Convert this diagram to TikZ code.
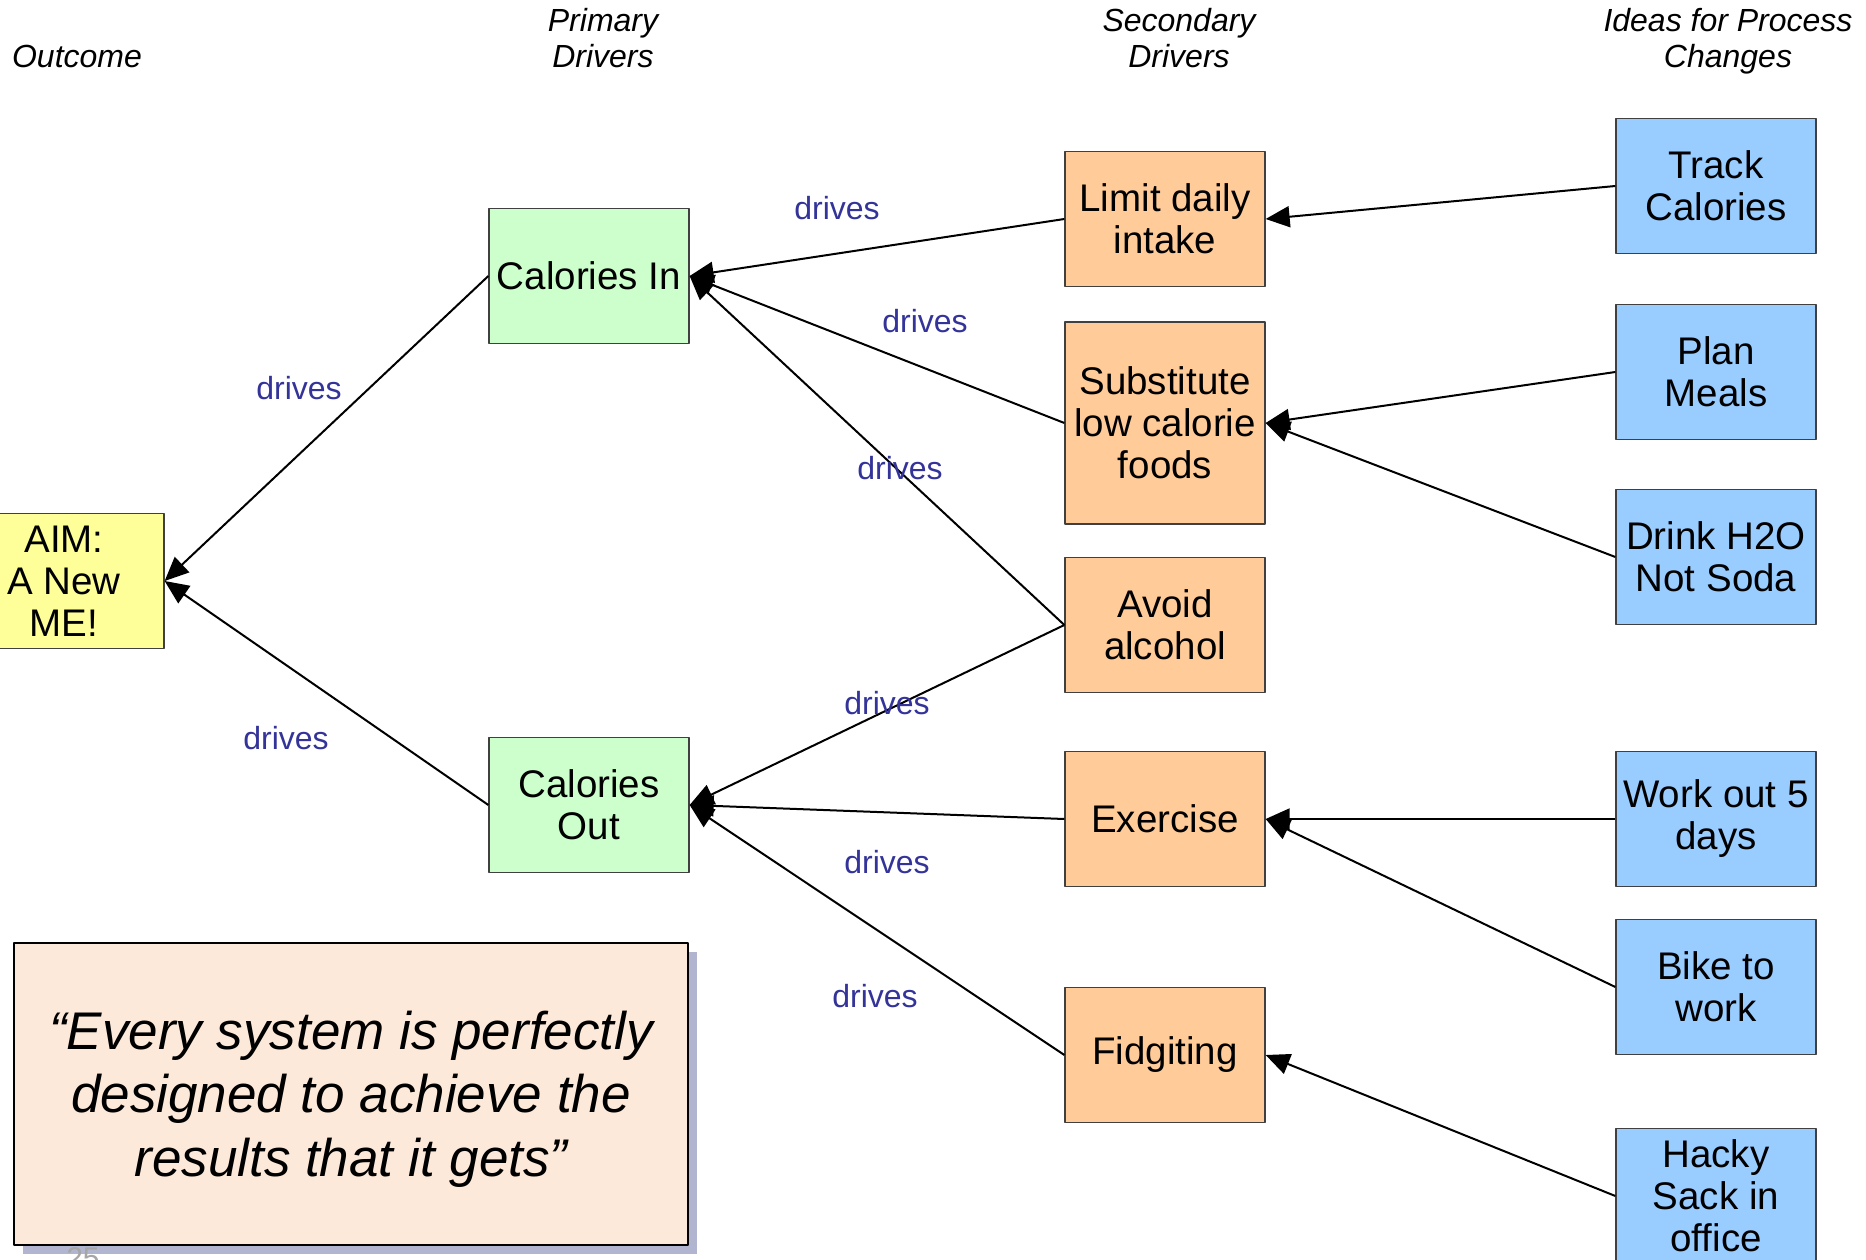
\documentclass[tikz,border=0pt]{standalone}
\usepackage{fontspec}
\setmainfont{Liberation Sans}
\usepackage{xcolor}
\usetikzlibrary{arrows.meta,shadows}

\definecolor{aimyellow}{RGB}{255,255,153}
\definecolor{primgreen}{RGB}{204,255,204}
\definecolor{secorange}{RGB}{255,204,153}
\definecolor{ideablue}{RGB}{153,204,255}
\definecolor{quotefill}{RGB}{253,233,217}
\definecolor{drivesblue}{RGB}{51,51,153}
\definecolor{boxline}{RGB}{64,64,64}
\definecolor{shadowgray}{RGB}{178,181,208}

\begin{document}
\begin{tikzpicture}[x=1pt,y=-1pt,>={Triangle[length=24pt,width=21pt]},line join=round,
  box/.style={draw=boxline,line width=1.3pt,minimum width=200pt,minimum height=135pt,
    align=center,inner sep=2pt,font=\fontsize{38.5}{42}\selectfont},
  head/.style={align=center,font=\fontsize{32}{36}\selectfont\itshape},
  drv/.style={text=drivesblue,font=\fontsize{32}{36}\selectfont},
  conn/.style={line width=2pt,->}]
  \useasboundingbox (0,0) rectangle (1866,1260);
  % column heads
  \node[head] (hout) at (77,56) {Outcome};
  \node[head] (hprim) at (603,38) {Primary\\Drivers};
  \node[head] (hsec) at (1179,38) {Secondary\\Drivers};
  \node[head] (hidea) at (1728,41) {Ideas for Process\\Changes};
  % boxes
  \node[box,fill=aimyellow] (aim) at (64,581) {AIM:\\A New\\ME!};
  \node[box,fill=primgreen] (calin) at (589,276) {Calories In};
  \node[box,fill=primgreen] (calout) at (589,805) {Calories\\Out};
  \node[box,fill=secorange] (limit) at (1165,219) {Limit daily\\intake};
  \node[box,fill=secorange,minimum height=202pt] (subst) at (1165,423) {Substitute\\low calorie\\foods};
  \node[box,fill=secorange] (avoid) at (1165,625) {Avoid\\alcohol};
  \node[box,fill=secorange] (exer) at (1165,819) {Exercise};
  \node[box,fill=secorange] (fidg) at (1165,1055) {Fidgiting};
  \node[box,fill=ideablue] (track) at (1716,186) {Track\\Calories};
  \node[box,fill=ideablue] (plan) at (1716,372) {Plan\\Meals};
  \node[box,fill=ideablue] (drink) at (1716,557) {Drink H2O\\Not Soda};
  \node[box,fill=ideablue] (work) at (1716,819) {Work out 5\\days};
  \node[box,fill=ideablue] (bike) at (1716,987) {Bike to\\work};
  \node[box,fill=ideablue] (hacky) at (1716,1196) {Hacky\\Sack in\\office};
  % connectors
  \draw[conn] (calin.west) -- (aim.east);
  \draw[conn] (calout.west) -- (aim.east);
  \draw[conn] (limit.west) -- (calin.east);
  \draw[conn] (subst.west) -- (calin.east);
  \draw[conn] (avoid.west) -- (calin.east);
  \draw[conn] (avoid.west) -- (calout.east);
  \draw[conn] (exer.west) -- (calout.east);
  \draw[conn] (fidg.west) -- (calout.east);
  \draw[conn] (track.west) -- (limit.east);
  \draw[conn] (plan.west) -- (subst.east);
  \draw[conn] (drink.west) -- (subst.east);
  \draw[conn] (work.west) -- (exer.east);
  \draw[conn] (bike.west) -- (exer.east);
  \draw[conn] (hacky.west) -- (fidg.east);
  % labels
  \node[drv] (dA) at (299,388) {drives};
  \node[drv] (dB) at (286,738) {drives};
  \node[drv] (dC) at (837,208) {drives};
  \node[drv] (dD) at (925,321) {drives};
  \node[drv] (dE) at (900,468) {drives};
  \node[drv] (dF) at (887,703) {drives};
  \node[drv] (dG) at (887,862) {drives};
  \node[drv] (dH) at (875,996) {drives};
  % quote
  \node[draw=black,line width=1.6pt,fill=quotefill,minimum width=674pt,minimum height=302pt,
    align=center,font=\fontsize{53}{63.5}\selectfont\itshape,
    drop shadow={shadow xshift=9pt,shadow yshift=-9pt,fill=shadowgray,opacity=1}]
    (quote) at (351,1094) {\parbox{640pt}{\centering\vspace*{10pt}“Every system is perfectly\\designed to achieve the\\results that it gets”}};
  \node[anchor=base,text=gray!70,font=\fontsize{30}{34}\selectfont] (pnum) at (83,1268) {25};
\end{tikzpicture}
\end{document}
